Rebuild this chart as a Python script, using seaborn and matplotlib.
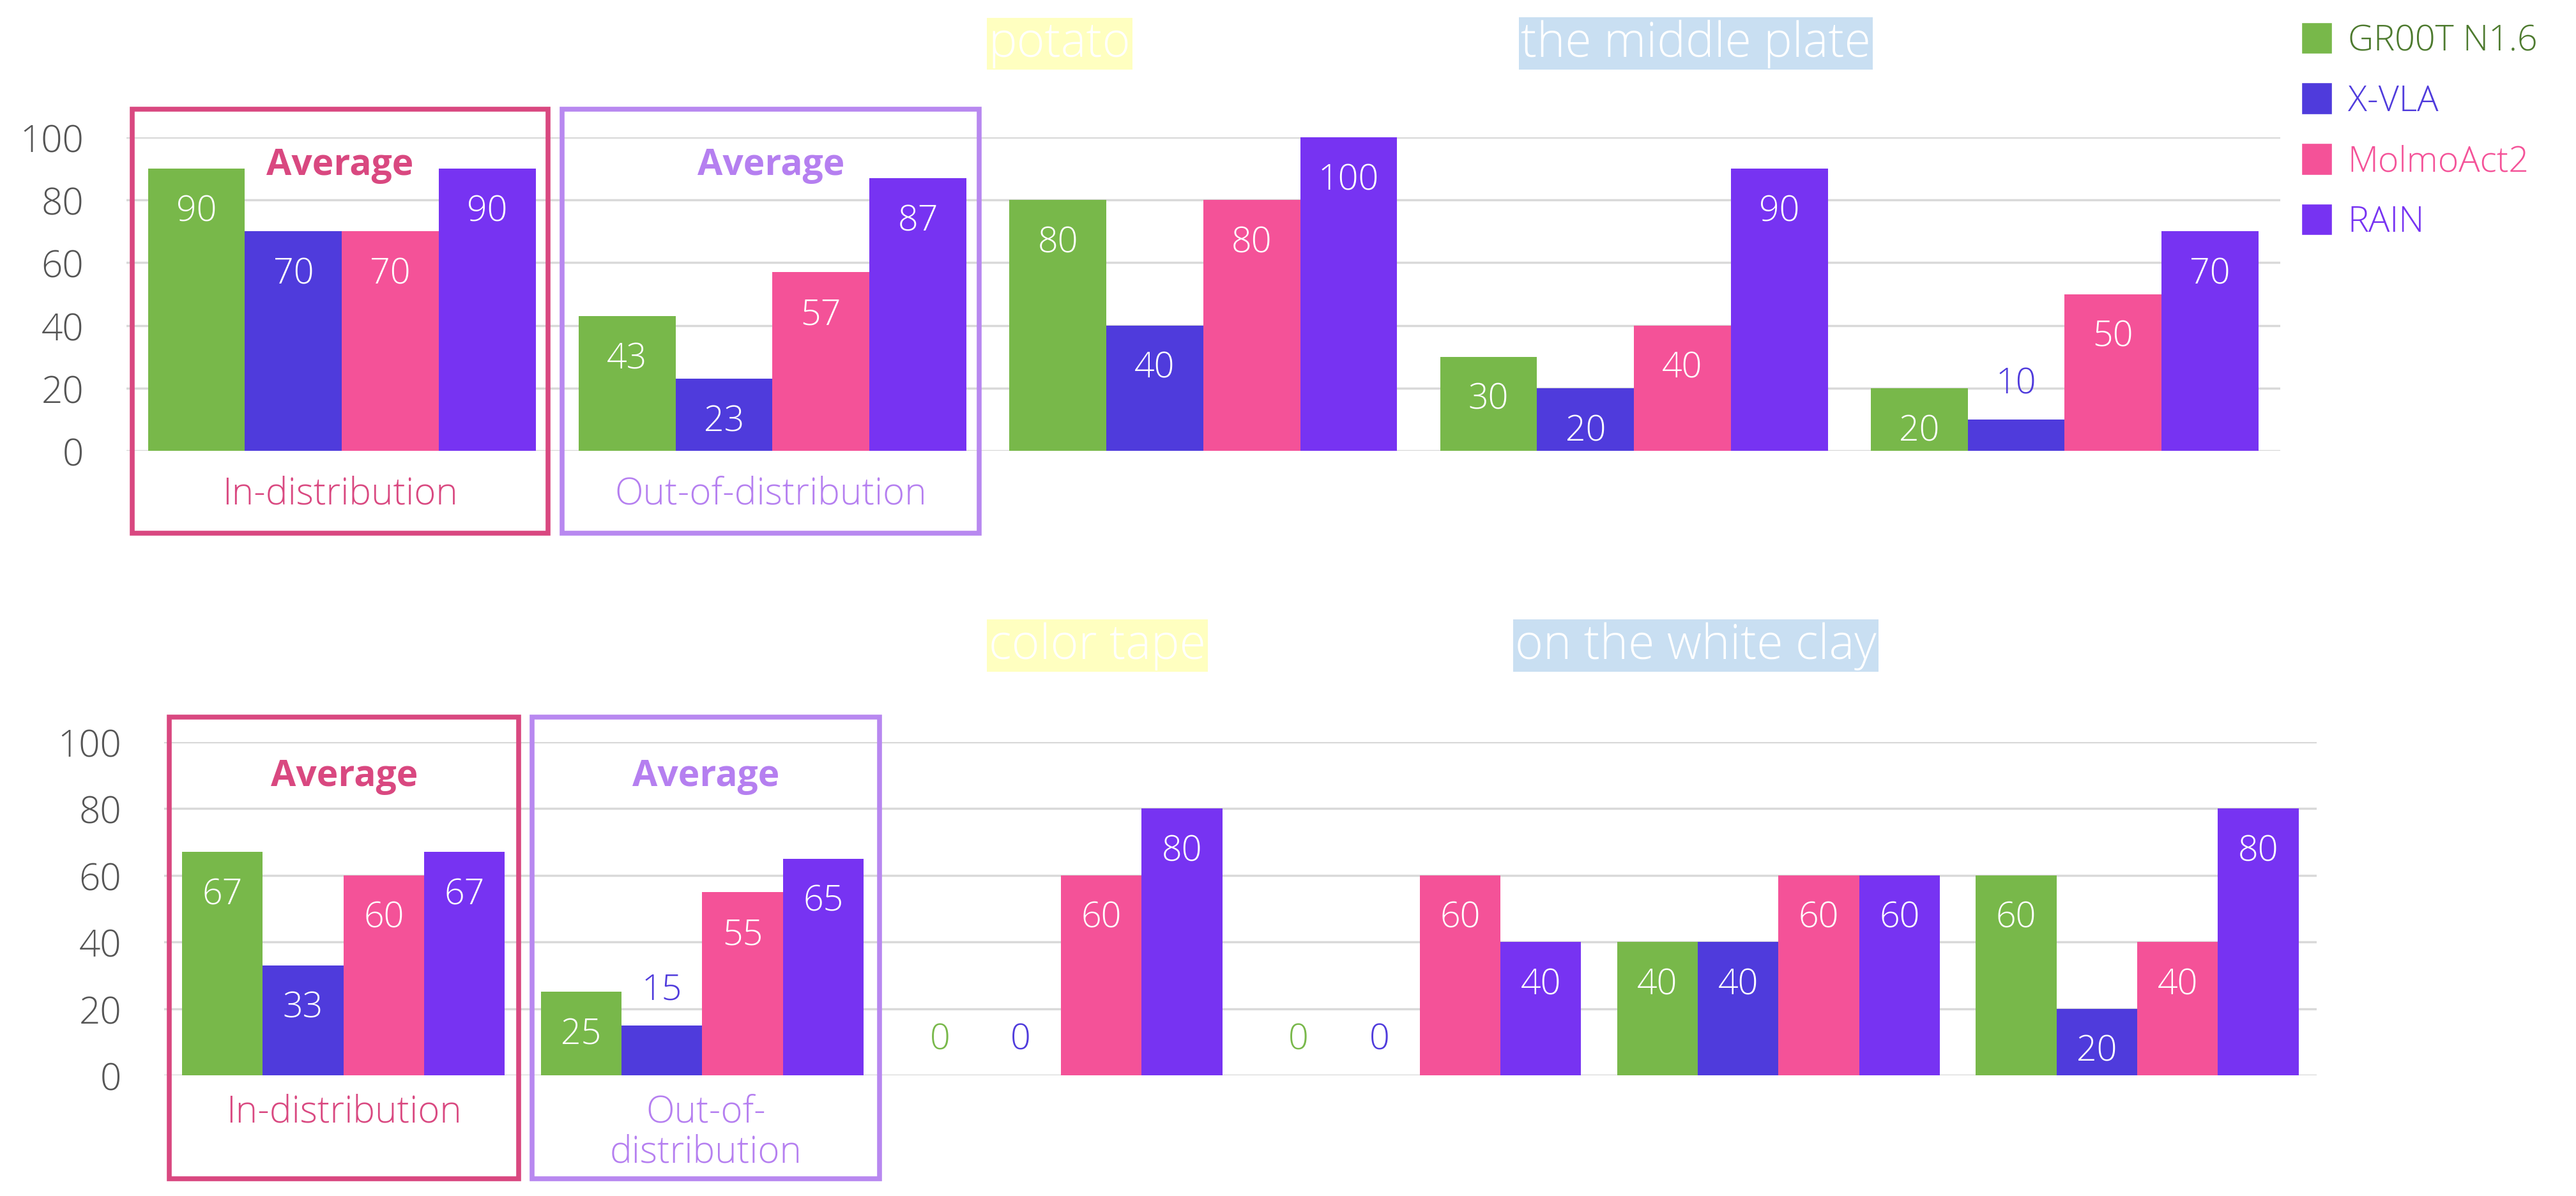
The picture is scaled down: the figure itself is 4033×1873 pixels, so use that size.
import matplotlib
matplotlib.use("Agg")
import matplotlib.pyplot as plt
import matplotlib.transforms as mtransforms
from matplotlib.patches import Rectangle, Patch
import pandas as pd
import seaborn as sns

# models / colours
models = ["GR00T N1.6", "X-VLA", "MolmoAct2", "RAIN"]
bar_colors = ["#78b84a", "#4f3bdc", "#f45298", "#7733f2"]
legend_text_colors = ["#4d7a2e", "#4f3bdc", "#f45298", "#7733f2"]

# top panel
top_groups = ["In-distribution", "Out-of-distribution", "task 1", "task 2", "task 3"]
top_gr00t = [90, 43, 80, 30, 20]
top_xvla = [70, 23, 40, 20, 10]
top_molmo = [70, 57, 80, 40, 50]
top_rain = [90, 87, 100, 90, 70]
top_titles = ["potato", "the middle plate"]

# bottom panel
bottom_groups = ["In-distribution", "Out-of-\ndistribution", "task 1", "task 2", "task 3", "task 4"]
bottom_gr00t = [67, 25, 0, 0, 40, 60]
bottom_xvla = [33, 15, 0, 0, 40, 20]
bottom_molmo = [60, 55, 60, 60, 60, 40]
bottom_rain = [67, 65, 80, 40, 60, 80]
bottom_titles = ["color tape", "on the white clay"]

yticks = [0, 20, 40, 60, 80, 100]
box_colors = ["#d94880", "#b888f0"]
avg_colors = ["#d94880", "#b57ff0"]

sns.set_theme(style="white")
plt.rcParams["font.family"] = ["Open Sans", "DejaVu Sans"]
plt.rcParams["font.weight"] = 300

fig = plt.figure(figsize=(40.33, 18.74), dpi=100)


def draw_panel(ax, groups, series, boxes, box_y, avg_y, label_y):
    rows = []
    for m, vals in zip(models, series):
        for g, v in zip(groups, vals):
            rows.append({"group": g, "model": m, "value": v})
    df = pd.DataFrame(rows)
    sns.barplot(data=df, x="group", y="value", hue="model", order=groups,
                hue_order=models, palette=bar_colors, width=0.9, saturation=1,
                errorbar=None, legend=False, linewidth=0, ax=ax)
    ax.set_ylim(0, 100)
    ax.set_xlim(-0.5, len(groups) - 0.5)
    ax.set_yticks(yticks)
    ax.tick_params(axis="y", length=0, pad=48, labelsize=42, labelcolor="#555555")
    ax.set_xticks([])
    ax.set_xlabel("")
    ax.set_ylabel("")
    ax.yaxis.grid(True, color="#d9d9d9", lw=2.5)
    ax.set_axisbelow(True)
    sns.despine(ax=ax, left=True, bottom=True)

    # value labels
    for cont, col in zip(ax.containers, bar_colors):
        for bar in cont:
            h = bar.get_height()
            x = bar.get_x() + bar.get_width() / 2
            if h > 15:
                ax.annotate(f"{h:.0f}", (x, h), xytext=(0, -48), textcoords="offset points",
                            ha="center", va="center", color="white", fontsize=40)
            else:
                ax.annotate(f"{h:.0f}", (x, h), xytext=(0, 40), textcoords="offset points",
                            ha="center", va="center", color=col, fontsize=40)

    # average boxes
    trans = mtransforms.blended_transform_factory(ax.transData, ax.transAxes)
    for i, (x0, x1) in enumerate(boxes):
        ax.add_patch(Rectangle((x0, box_y[0]), x1 - x0, box_y[1] - box_y[0], transform=trans,
                               fill=False, edgecolor=box_colors[i], lw=5.5, clip_on=False))
        xc = (x0 + x1) / 2
        ax.text(xc, avg_y, "Average", transform=trans, ha="center", va="center",
                fontsize=41, weight="bold", color=avg_colors[i])
        ax.text(xc, label_y, groups[i], transform=trans, ha="center", va="top",
                fontsize=42, color=avg_colors[i], linespacing=1.1)


ax_top = fig.add_axes([0.0491, 0.6227, 0.836, 0.262])
draw_panel(ax_top, top_groups, [top_gr00t, top_xvla, top_molmo, top_rain],
           [(-0.487, 0.478), (0.512, 1.48)], (-0.263, 1.09), 0.912, -0.077)

ax_bot = fig.add_axes([0.0637, 0.1009, 0.8356, 0.2785])
draw_panel(ax_bot, bottom_groups, [bottom_gr00t, bottom_xvla, bottom_molmo, bottom_rain],
           [(-0.485, 0.489), (0.526, 1.495)], (-0.310, 1.075), 0.898, -0.052)

# highlighted titles (white text)
title_pos_top = [(0.4114, 0.963, "#ffffc0"), (0.6583, 0.963, "#c9dff2")]
title_pos_bot = [(0.4260, 0.460, "#ffffc0"), (0.6583, 0.460, "#c9dff2")]
for (x, y, bg), t in zip(title_pos_top + title_pos_bot, top_titles + bottom_titles):
    fig.text(x, y, t, ha="center", va="center", color="white", fontsize=54,
             bbox=dict(facecolor=bg, edgecolor="none", pad=2))

handles = [Patch(facecolor=c, label=m) for c, m in zip(bar_colors, models)]
fig.legend(handles=handles, loc="upper left", bbox_to_anchor=(0.8935, 0.981),
           frameon=False, fontsize=40, handlelength=0.85, handleheight=1.0,
           handletextpad=0.45, labelspacing=0.68, labelcolor=legend_text_colors,
           borderaxespad=0, borderpad=0)

fig.savefig("out.png", dpi=100)
